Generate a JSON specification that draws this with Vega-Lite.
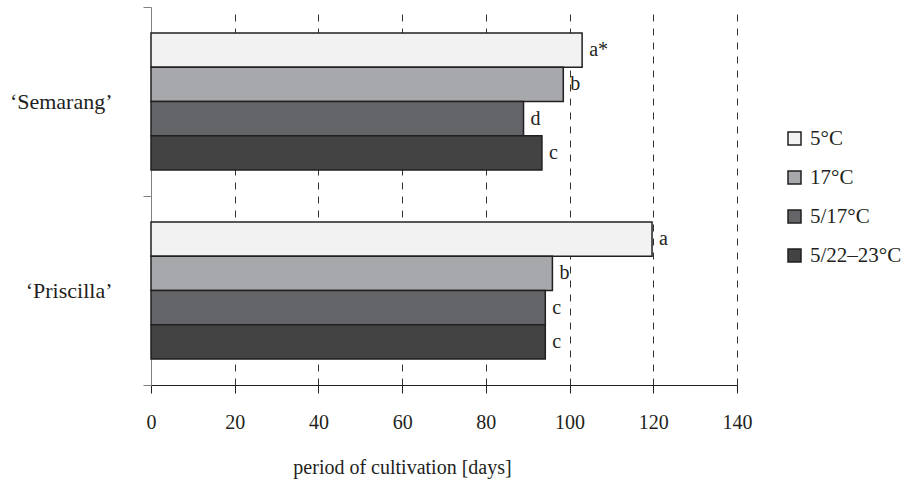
{
  "$schema": "https://vega.github.io/schema/vega-lite/v6.json",
  "width": 586,
  "height": 378,
  "autosize": {"type": "none"},
  "padding": {"left": 151, "top": 7, "right": 166, "bottom": 94},
  "background": "white",
  "config": {"view": {"stroke": null}, "font": "Liberation Serif"},
  "data": {
    "values": [
      {"cultivar": "‘Semarang’", "temp": "5°C", "days": 103.0, "letter": "a*"},
      {"cultivar": "‘Semarang’", "temp": "17°C", "days": 98.5, "letter": "b"},
      {"cultivar": "‘Semarang’", "temp": "5/17°C", "days": 89.0, "letter": "d"},
      {"cultivar": "‘Semarang’", "temp": "5/22–23°C", "days": 93.4, "letter": "c"},
      {"cultivar": "‘Priscilla’", "temp": "5°C", "days": 119.7, "letter": "a"},
      {"cultivar": "‘Priscilla’", "temp": "17°C", "days": 95.9, "letter": "b"},
      {"cultivar": "‘Priscilla’", "temp": "5/17°C", "days": 94.2, "letter": "c"},
      {"cultivar": "‘Priscilla’", "temp": "5/22–23°C", "days": 94.2, "letter": "c"}
    ]
  },
  "encoding": {
    "y": {
      "field": "cultivar",
      "type": "nominal",
      "sort": ["‘Semarang’", "‘Priscilla’"],
      "scale": {"paddingInner": 0, "paddingOuter": 0},
      "axis": {
        "title": null,
        "tickBand": "extent",
        "domainColor": "#808080",
        "tickColor": "#808080",
        "tickSize": 8,
        "labelPadding": 31,
        "labelFontSize": 22,
        "labelFont": "Liberation Serif",
        "labelColor": "#231f20",
        "grid": false
      }
    },
    "yOffset": {
      "field": "temp",
      "type": "nominal",
      "sort": ["5°C", "17°C", "5/17°C", "5/22–23°C"],
      "scale": {"paddingInner": 0, "paddingOuter": 0.759}
    },
    "x": {
      "field": "days",
      "type": "quantitative",
      "scale": {"domain": [0, 140], "nice": false},
      "axis": {
        "values": [0, 20, 40, 60, 80, 100, 120, 140],
        "labelFlush": false,
        "title": "period of cultivation [days]",
        "titleFont": "Liberation Serif",
        "titleFontSize": 20,
        "titleFontWeight": "normal",
        "titleColor": "#231f20",
        "titleX": 251,
        "titleY": 88,
        "titleAlign": "center",
        "titleBaseline": "alphabetic",
        "domainColor": "#231f20",
        "tickColor": "#231f20",
        "tickSize": 8,
        "labelFont": "Liberation Serif",
        "labelFontSize": 20,
        "labelColor": "#231f20",
        "labelPadding": 19,
        "grid": true,
        "gridColor": "#333333",
        "gridDash": [7, 7],
        "gridWidth": 1,
        "gridOpacity": {"condition": {"test": "datum.value === 0", "value": 0}, "value": 1}
      }
    }
  },
  "layer": [
    {
      "mark": {"type": "bar", "stroke": "#231f20", "strokeWidth": 1.5},
      "encoding": {
        "color": {
          "field": "temp",
          "type": "nominal",
          "sort": ["5°C", "17°C", "5/17°C", "5/22–23°C"],
          "scale": {
            "domain": ["5°C", "17°C", "5/17°C", "5/22–23°C"],
            "range": ["#f2f2f2", "#a7a8ab", "#646569", "#434343"]
          },
          "legend": {
            "title": null,
            "orient": "none",
            "legendX": 633,
            "legendY": 121,
            "padding": 0,
            "symbolType": "square",
            "symbolSize": 169,
            "symbolStrokeColor": "#231f20",
            "symbolStrokeWidth": 1.5,
            "symbolOpacity": 1,
            "labelFont": "Liberation Serif",
            "labelFontSize": 21,
            "labelColor": "#231f20",
            "labelOffset": 5,
            "labelLimit": 200,
            "rowPadding": 17
          }
        }
      }
    },
    {
      "mark": {
        "type": "text",
        "align": "left",
        "baseline": "middle",
        "dx": 7,
        "fontSize": 20,
        "font": "Liberation Serif",
        "color": "#231f20"
      },
      "encoding": {"text": {"field": "letter"}}
    }
  ]
}
